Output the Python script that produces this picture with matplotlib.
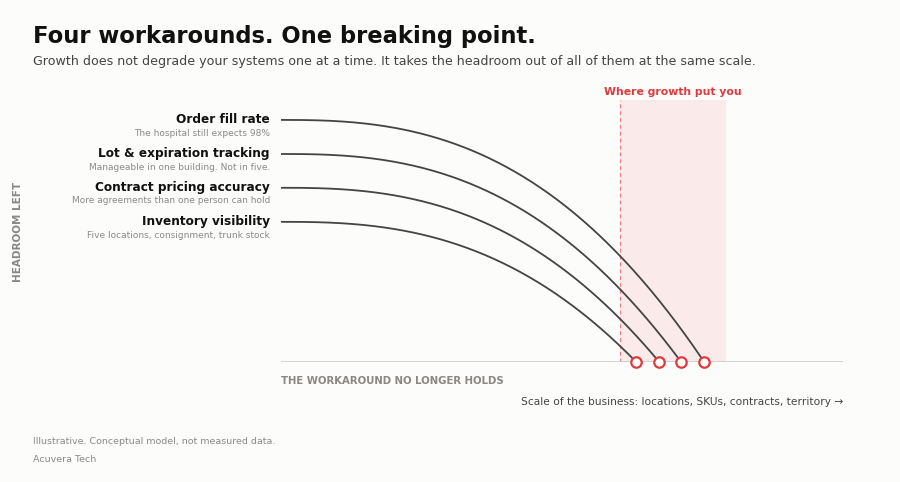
import numpy as np
import matplotlib
matplotlib.use("Agg")
import matplotlib.pyplot as plt

# ---- data ----
labels = ["Order fill rate", "Lot & expiration tracking",
          "Contract pricing accuracy", "Inventory visibility"]
sublabels = ["The hospital still expects 98%",
             "Manageable in one building. Not in five.",
             "More agreements than one person can hold",
             "Five locations, consignment, trunk stock"]
start_headroom = [0.924, 0.794, 0.665, 0.535]   # headroom at small scale
break_scale = [75.3, 71.2, 67.3, 63.2]          # scale where headroom hits zero
shape_exp = 2.6                                 # conceptual curve shape
growth_zone = (60.3, 79.2)

BG = "#fcfcfa"
RED = "#e0393e"

fig = plt.figure(figsize=(9, 4.82), dpi=100, facecolor=BG)
ax = fig.add_axes([281/900, 1-362/482, (843-281)/900, (362-100)/482])
ax.set_facecolor(BG)
ax.set_xlim(0, 100)
ax.set_ylim(0, 1)
for s in ax.spines.values():
    s.set_visible(False)
ax.set_xticks([])
ax.set_yticks([])

# growth zone
ax.axvspan(growth_zone[0], growth_zone[1], color="#fbeaea", zorder=0, lw=0)
ax.axvline(growth_zone[0], color="#f08080", lw=0.9, ls=(0, (3, 2.5)), zorder=1)
ax.text((growth_zone[0]+growth_zone[1])/2, 1.012, "Where growth put you",
        color=RED, fontsize=7.8, fontweight="bold", ha="center", va="bottom")

# baseline
ax.axhline(0, color="#cfcfcf", lw=1.3, zorder=1)

for h, xb in zip(start_headroom, break_scale):
    x = np.linspace(0, xb, 200)
    y = h * (1 - (x / xb) ** shape_exp)
    ax.plot(x, y, color="#444444", lw=1.3, zorder=3, solid_capstyle="round")
    ax.plot([xb], [0], marker="o", ms=7.5, mfc="white", mec=RED, mew=1.6,
            zorder=5, clip_on=False)

# left labels
for lab, sub, h in zip(labels, sublabels, start_headroom):
    ax.annotate(lab, xy=(0, h), xytext=(-8, 0.5), textcoords="offset points",
                ha="right", va="center", fontsize=8.75, fontweight="bold",
                color="#111111", annotation_clip=False)
    ax.annotate(sub, xy=(0, h), xytext=(-8, -9.5), textcoords="offset points",
                ha="right", va="center", fontsize=6.5, color="#8a8a8a",
                annotation_clip=False)

# axis captions
fig.text(281/900, 1-381/482, "THE WORKAROUND NO LONGER HOLDS", fontsize=7.27,
         fontweight="bold", color="#8a8784", ha="left", va="center")
fig.text(843/900, 1-402/482,
         "Scale of the business: locations, SKUs, contracts, territory \u2192",
         fontsize=7.66, color="#444444", ha="right", va="center")
fig.text(18/900, 1-232/482, "HEADROOM LEFT", fontsize=7.5, fontweight="bold",
         color="#8a8784", rotation=90, ha="center", va="center")

# titles
fig.text(33/900, 1-36/482, "Four workarounds. One breaking point.",
         fontsize=16.26, fontweight="bold", color="#111111", ha="left", va="center")
fig.text(33/900, 1-62/482,
         "Growth does not degrade your systems one at a time. It takes the headroom out of all of them at the same scale.",
         fontsize=9.06, color="#444444", ha="left", va="center")

# footer
fig.text(33/900, 1-441/482, "Illustrative. Conceptual model, not measured data.",
         fontsize=6.83, color="#8a8a8a", ha="left", va="center")
fig.text(33/900, 1-459/482, "Acuvera Tech", fontsize=6.83, color="#8a8a8a",
         ha="left", va="center")

fig.savefig("out.png", dpi=100, facecolor=BG)
